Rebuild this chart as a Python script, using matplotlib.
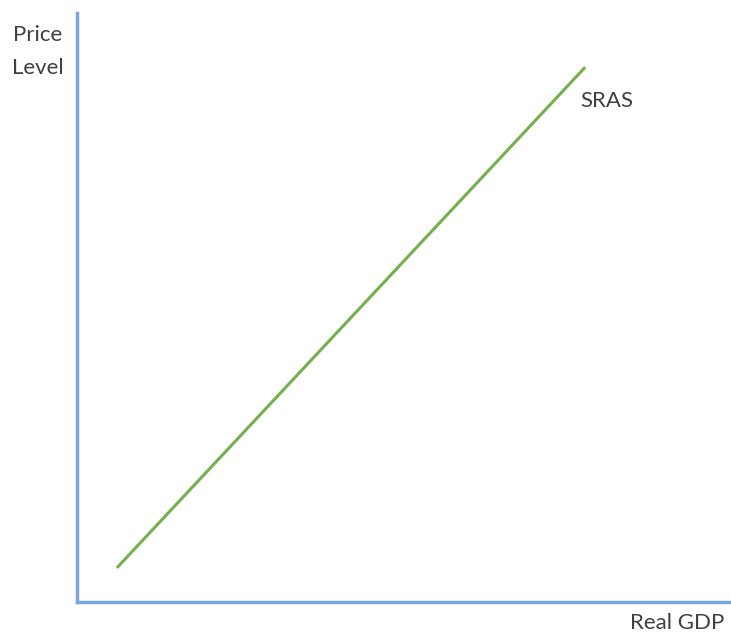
import matplotlib
matplotlib.use('Agg')
import matplotlib.pyplot as plt

# SRAS curve endpoints (data units on a 0-10 scale)
sras_x = [0.61, 7.77]
sras_y = [0.58, 9.08]

axis_color = '#7ba7dd'
line_color = '#74b04c'
text_color = '#404040'

fig = plt.figure(figsize=(7.31, 6.33), dpi=100)
ax = fig.add_axes([77 / 731, 31 / 633, 654 / 731, 589 / 633])
ax.set_xlim(0, 10)
ax.set_ylim(0, 10)

ax.plot(sras_x, sras_y, color=line_color, linewidth=2.2, solid_capstyle='butt')

for side in ['top', 'right']:
    ax.spines[side].set_visible(False)
for side in ['left', 'bottom']:
    ax.spines[side].set_color(axis_color)
    ax.spines[side].set_linewidth(2.5)
ax.set_xticks([])
ax.set_yticks([])

font = dict(family=['Lato', 'DejaVu Sans'], fontsize=16, color=text_color)
fig.text(38 / 731, 1 - 35 / 633, 'Price', ha='center', va='center', **font)
fig.text(38 / 731, 1 - 68 / 633, 'Level', ha='center', va='center', **font)
fig.text(607 / 731, 1 - 101 / 633, 'SRAS', ha='center', va='center', **font)
fig.text(677 / 731, 1 - 623 / 633, 'Real GDP', ha='center', va='center', **font)

fig.savefig('out.png', dpi=100)
